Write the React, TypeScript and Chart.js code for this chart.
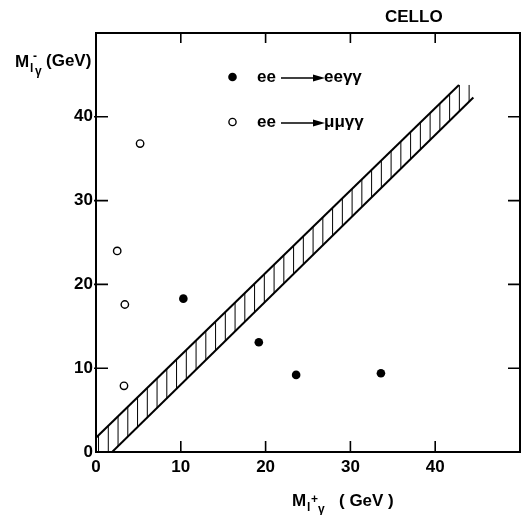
import React, { useEffect, useRef } from 'react';
import { Chart, registerables } from 'chart.js';

Chart.register(...registerables);

// ee -> ee γγ (filled)
const eeX = [10.3, 19.2, 23.6, 33.6];
const eeY = [18.3, 13.1, 9.2, 9.4];
// ee -> μμ γγ (open)
const mumuX = [5.2, 2.5, 3.4, 3.3];
const mumuY = [36.8, 24.0, 17.6, 7.9];
// hatched band edges
const bandUpperX = [0, 42.8];
const bandUpperY = [1.7, 43.8];
const bandLowerX = [1.9, 44.5];
const bandLowerY = [0, 42.3];
const hatchStart = 0.3;
const hatchStep = 1.15;
// axes
const xTicks = [0, 10, 20, 30, 40];
const yTicks = [0, 10, 20, 30, 40];
const axisMin = 0;
const axisMax = 50;
// texts
const legendFrom = ['ee', 'ee'];
const legendTo = ['eeγγ', 'μμγγ'];
const experiment = 'CELLO';

const FONT = "'Liberation Sans', Arial, sans-serif";

function interp(xs: number[], ys: number[], x: number) {
  const t = (x - xs[0]) / (xs[1] - xs[0]);
  return ys[0] + t * (ys[1] - ys[0]);
}

const framePlugin = {
  id: 'framePlugin',
  afterDatasetsDraw(chart: any) {
    const ctx = chart.ctx as CanvasRenderingContext2D;
    const xs = chart.scales.x;
    const ys = chart.scales.y;
    const { left, right, top, bottom } = chart.chartArea;
    ctx.save();
    // hatch
    ctx.strokeStyle = '#000';
    ctx.lineWidth = 1;
    for (let t = hatchStart; t < bandLowerX[1] - 0.2; t += hatchStep) {
      const lo = t < bandLowerX[0] ? 0 : interp(bandLowerX, bandLowerY, t);
      const hi = Math.min(interp(bandUpperX, bandUpperY, t), bandUpperY[1]);
      if (hi <= lo) continue;
      const px = xs.getPixelForValue(t);
      ctx.beginPath();
      ctx.moveTo(px, ys.getPixelForValue(lo));
      ctx.lineTo(px, ys.getPixelForValue(hi));
      ctx.stroke();
    }
    // frame
    ctx.lineWidth = 2;
    ctx.strokeRect(left, top, right - left, bottom - top);
    ctx.lineWidth = 1.6;
    for (const v of xTicks) {
      if (v === axisMin) continue;
      const px = xs.getPixelForValue(v);
      ctx.beginPath();
      ctx.moveTo(px, bottom);
      ctx.lineTo(px, bottom - 11);
      ctx.moveTo(px, top);
      ctx.lineTo(px, top + 10);
      ctx.stroke();
    }
    for (const v of yTicks) {
      if (v === axisMin) continue;
      const py = ys.getPixelForValue(v);
      ctx.beginPath();
      ctx.moveTo(left - 2, py);
      ctx.lineTo(left + 12, py);
      ctx.moveTo(right, py);
      ctx.lineTo(right - 12, py);
      ctx.stroke();
    }
    // legend
    ctx.fillStyle = '#000';
    ctx.textBaseline = 'alphabetic';
    ctx.textAlign = 'left';
    const rows = [77, 122];
    rows.forEach((ry, i) => {
      const mx = 232.5;
      ctx.beginPath();
      if (i === 0) {
        ctx.arc(mx, ry, 4.3, 0, Math.PI * 2);
        ctx.fill();
      } else {
        ctx.lineWidth = 1.4;
        ctx.arc(mx, ry, 3.6, 0, Math.PI * 2);
        ctx.stroke();
      }
      ctx.font = `bold 17px ${FONT}`;
      ctx.fillText(legendFrom[i], 257, ry + 5);
      // arrow
      ctx.lineWidth = 1.6;
      ctx.beginPath();
      ctx.moveTo(281, ry + 1);
      ctx.lineTo(315, ry + 1);
      ctx.stroke();
      ctx.beginPath();
      ctx.moveTo(325, ry + 1);
      ctx.lineTo(313, ry - 2.5);
      ctx.lineTo(313, ry + 4.5);
      ctx.closePath();
      ctx.fill();
      ctx.fillText(legendTo[i], 324, ry + 5);
    });
    // CELLO
    ctx.font = `bold 17px ${FONT}`;
    ctx.fillText(experiment, 385, 22);
    // y title: M_{l⁻γ}(GeV)
    ctx.font = `bold 17px ${FONT}`;
    ctx.fillText('M', 15, 67);
    ctx.font = `bold 12px ${FONT}`;
    ctx.fillText('l', 30, 72);
    ctx.fillText('-', 33, 60);
    ctx.fillText('γ', 35, 75);
    ctx.font = `bold 17px ${FONT}`;
    ctx.fillText('(GeV)', 46, 66);
    // x title: M_{l⁺γ} (GeV)
    ctx.font = `bold 17px ${FONT}`;
    ctx.fillText('M', 292, 506);
    ctx.font = `bold 12px ${FONT}`;
    ctx.fillText('l', 307, 511);
    ctx.fillText('+', 311, 503);
    ctx.fillText('γ', 318, 513);
    ctx.font = `bold 17px ${FONT}`;
    ctx.fillText('( GeV )', 339, 506);
    ctx.restore();
  },
};

export default function App() {
  const ref = useRef<HTMLCanvasElement | null>(null);
  useEffect(() => {
    if (!ref.current) return;
    const chart = new Chart(ref.current, {
      type: 'scatter',
      data: {
        datasets: [
          {
            data: bandUpperX.map((x, i) => ({ x, y: bandUpperY[i] })),
            showLine: true,
            borderColor: '#000',
            borderWidth: 2,
            pointRadius: 0,
          },
          {
            data: bandLowerX.map((x, i) => ({ x, y: bandLowerY[i] })),
            showLine: true,
            borderColor: '#000',
            borderWidth: 2,
            pointRadius: 0,
          },
          {
            data: eeX.map((x, i) => ({ x, y: eeY[i] })),
            pointRadius: 4.3,
            backgroundColor: '#000',
            borderColor: '#000',
            borderWidth: 0,
          },
          {
            data: mumuX.map((x, i) => ({ x, y: mumuY[i] })),
            pointRadius: 3.7,
            backgroundColor: '#fff',
            borderColor: '#000',
            borderWidth: 1.4,
          },
        ],
      },
      options: {
        animation: false,
        responsive: false,
        devicePixelRatio: 1,
        layout: { padding: { top: 33, right: 11, left: 0, bottom: 0 } },
        plugins: { legend: { display: false }, tooltip: { enabled: false } },
        scales: {
          x: {
            type: 'linear',
            min: axisMin,
            max: axisMax,
            grid: { display: false, drawTicks: false },
            border: { display: false },
            afterFit: (s: any) => { s.height = 63; },
            afterBuildTicks: (s: any) => { s.ticks = xTicks.map((v) => ({ value: v })); },
            ticks: { color: '#000', padding: 5, font: { family: FONT, size: 17, weight: 'bold' } },
          },
          y: {
            type: 'linear',
            min: axisMin,
            max: axisMax,
            grid: { display: false, drawTicks: false },
            border: { display: false },
            afterFit: (s: any) => { s.width = 96; },
            afterBuildTicks: (s: any) => { s.ticks = yTicks.map((v) => ({ value: v })); },
            ticks: { color: '#000', padding: 3, font: { family: FONT, size: 17, weight: 'bold' } },
          },
        },
      } as any,
      plugins: [framePlugin],
    });
    return () => chart.destroy();
  }, []);
  return (
    <div style={{ position: 'absolute', left: 0, top: 0, width: 531, height: 515, background: '#fff' }}>
      <canvas ref={ref} width={531} height={515} />
    </div>
  );
}
